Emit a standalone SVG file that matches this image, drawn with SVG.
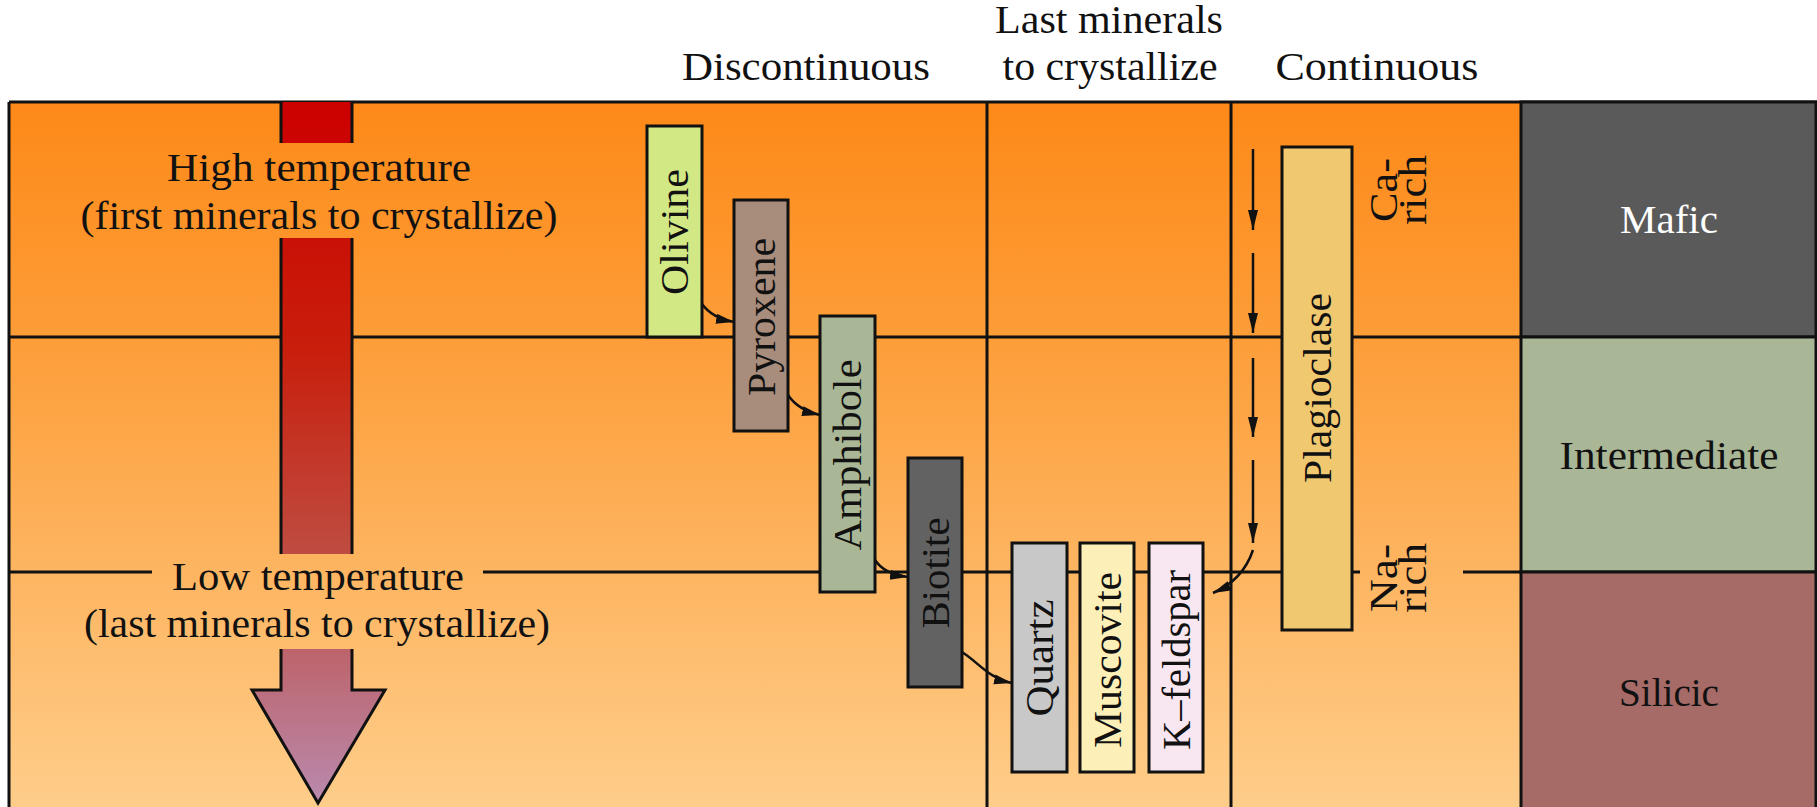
<svg xmlns="http://www.w3.org/2000/svg" width="1817" height="807" viewBox="0 0 1817 807">
<defs>
<linearGradient id="bg" x1="0" y1="102" x2="0" y2="807" gradientUnits="userSpaceOnUse">
<stop offset="0" stop-color="#fd8918"/>
<stop offset="0.33" stop-color="#fd9d38"/>
<stop offset="1" stop-color="#fecd8a"/>
</linearGradient>
<linearGradient id="red" x1="0" y1="102" x2="0" y2="803" gradientUnits="userSpaceOnUse">
<stop offset="0" stop-color="#cc0000"/>
<stop offset="0.35" stop-color="#c81e0c"/>
<stop offset="0.65" stop-color="#bf4d42"/>
<stop offset="1" stop-color="#b98aae"/>
</linearGradient>
<marker id="ah" markerUnits="userSpaceOnUse" markerWidth="22" markerHeight="12" refX="20" refY="5" orient="auto">
<path d="M0,0 L20,5 L0,10 z" fill="#111"/>
</marker>
<marker id="ahs" markerUnits="userSpaceOnUse" markerWidth="20" markerHeight="12" refX="18" refY="5" orient="auto">
<path d="M0,0 L18,5 L0,10 z" fill="#111"/>
</marker>
<style>
.ln{stroke:#111;stroke-width:3;fill:none}
.box{stroke:#111;stroke-width:3}
.t{font-family:"Liberation Serif","Times New Roman",serif;font-size:40px;fill:#111;text-anchor:middle}
.w{fill:#fff}
.arr{stroke:#111;stroke-width:2.5;fill:none;marker-end:url(#ah)}
.carr{stroke:#111;stroke-width:2.5;fill:none;marker-end:url(#ahs)}
</style>
</defs>

<rect x="0" y="0" width="1817" height="807" fill="#fff"/>

<g id="background">
<rect x="9" y="102" width="1512" height="705" fill="url(#bg)"/>
</g>

<g id="grid">
<path class="ln" d="M9,102 H1817 M9,102 V807"/>
<path class="ln" d="M9,337 H1521"/>
<path class="ln" d="M9,572 H152 M483,572 H1360 M1463,572 H1521"/>
<path class="ln" d="M987,102 V807 M1231,102 V807"/>
</g>

<g id="panels">
<g id="mafic"><rect class="box" x="1521" y="102" width="295" height="235" fill="#5a5a5a"/>
<text class="t w" x="1669" y="233" textLength="98" lengthAdjust="spacingAndGlyphs">Mafic</text></g>
<g id="intermediate"><rect class="box" x="1521" y="337" width="295" height="235" fill="#a9b796"/>
<text class="t" x="1669" y="469" textLength="219" lengthAdjust="spacingAndGlyphs">Intermediate</text></g>
<g id="silicic"><rect class="box" x="1521" y="572" width="295" height="237" fill="#a66a67"/>
<text class="t" x="1669" y="706" textLength="100" lengthAdjust="spacingAndGlyphs">Silicic</text></g>
</g>

<g id="headers">
<text class="t" x="806" y="80" textLength="248" lengthAdjust="spacingAndGlyphs">Discontinuous</text>
<text class="t" x="1109" y="33" textLength="228" lengthAdjust="spacingAndGlyphs">Last minerals</text>
<text class="t" x="1110" y="80" textLength="215" lengthAdjust="spacingAndGlyphs">to crystallize</text>
<text class="t" x="1377" y="80" textLength="203" lengthAdjust="spacingAndGlyphs">Continuous</text>
</g>

<g id="temperature-arrow">
<rect x="281" y="102" width="71" height="41" fill="url(#red)"/>
<rect x="281" y="238" width="71" height="316" fill="url(#red)"/>
<path d="M281,649 V690 H252 L318,803 L385,690 H352 V649" fill="url(#red)" stroke="#111" stroke-width="3" stroke-linejoin="miter"/>
<path class="ln" d="M281,102 V143 M352,102 V143 M281,238 V554 M352,238 V554"/>
<text class="t" x="319" y="181" textLength="304" lengthAdjust="spacingAndGlyphs">High temperature</text>
<text class="t" x="319" y="229" textLength="477" lengthAdjust="spacingAndGlyphs">(first minerals to crystallize)</text>
<text class="t" x="318" y="590" textLength="292" lengthAdjust="spacingAndGlyphs">Low temperature</text>
<text class="t" x="317" y="637" textLength="466" lengthAdjust="spacingAndGlyphs">(last minerals to crystallize)</text>
</g>

<g id="connectors">
<path class="carr" d="M702,304 Q712,318 734,322"/>
<path class="carr" d="M788,395 Q798,410 820,415"/>
<path class="carr" d="M875,560 Q884,574 908,577"/>
<path class="carr" d="M962,652 C978,662 988,678 1012,683"/>
<path class="arr" d="M1253,149 V230"/>
<path class="arr" d="M1253,253 V333"/>
<path class="arr" d="M1253,358 V437"/>
<path class="arr" d="M1253,460 V543"/>
<path class="carr" d="M1253,550 Q1243,580 1213,593"/>
</g>

<g id="olivine"><rect class="box" x="647" y="126" width="55" height="211" fill="#d2e884"/>
<text class="t" transform="translate(688,232) rotate(-90)" textLength="126" lengthAdjust="spacingAndGlyphs">Olivine</text></g>
<g id="pyroxene"><rect class="box" x="734" y="200" width="54" height="231" fill="#a88c7c"/>
<text class="t" transform="translate(775,317) rotate(-90)" textLength="158" lengthAdjust="spacingAndGlyphs">Pyroxene</text></g>
<g id="amphibole"><rect class="box" x="820" y="316" width="55" height="276" fill="#a9b796"/>
<text class="t" transform="translate(861,455) rotate(-90)" textLength="191" lengthAdjust="spacingAndGlyphs">Amphibole</text></g>
<g id="biotite"><rect class="box" x="908" y="458" width="54" height="229" fill="#626262"/>
<text class="t" transform="translate(949,573) rotate(-90)" textLength="111" lengthAdjust="spacingAndGlyphs">Biotite</text></g>
<g id="quartz"><rect class="box" x="1012" y="543" width="55" height="229" fill="#c8c8c8"/>
<text class="t" transform="translate(1053,658) rotate(-90)" textLength="117" lengthAdjust="spacingAndGlyphs">Quartz</text></g>
<g id="muscovite"><rect class="box" x="1080" y="543" width="54" height="229" fill="#fcf0b8"/>
<text class="t" transform="translate(1121,660) rotate(-90)" textLength="176" lengthAdjust="spacingAndGlyphs">Muscovite</text></g>
<g id="kfeldspar"><rect class="box" x="1149" y="543" width="54" height="229" fill="#f8e6f0"/>
<text class="t" transform="translate(1190,660) rotate(-90)" textLength="180" lengthAdjust="spacingAndGlyphs">K–feldspar</text></g>
<g id="plagioclase"><rect class="box" x="1282" y="147" width="70" height="483" fill="#f0c870"/>
<text class="t" transform="translate(1331,388) rotate(-90)" textLength="190" lengthAdjust="spacingAndGlyphs">Plagioclase</text></g>

<g id="ca-rich" transform="translate(1397,190) rotate(-90)">
<text class="t" x="0" y="0" textLength="64" lengthAdjust="spacingAndGlyphs">Ca-</text>
<text class="t" x="0" y="29" textLength="70" lengthAdjust="spacingAndGlyphs">rich</text>
</g>
<g id="na-rich" transform="translate(1397,578) rotate(-90)">
<text class="t" x="0" y="0" textLength="68" lengthAdjust="spacingAndGlyphs">Na-</text>
<text class="t" x="0" y="29" textLength="70" lengthAdjust="spacingAndGlyphs">rich</text>
</g>
</svg>
